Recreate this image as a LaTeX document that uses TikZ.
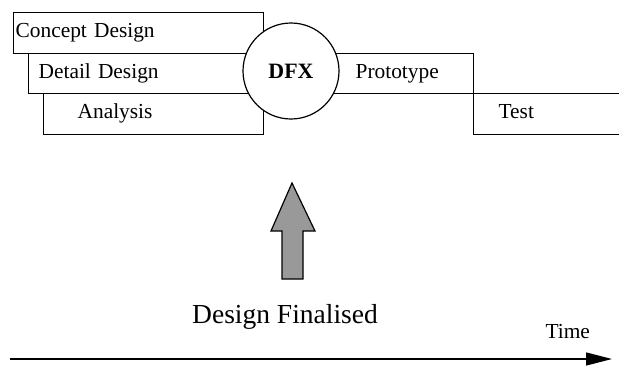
\documentclass[tikz,border=0pt]{standalone}
\usepackage{fontspec}
\setmainfont{Liberation Serif}
\usetikzlibrary{arrows.meta}

\begin{document}
\begin{tikzpicture}[x=1pt, y=-1pt,
  every node/.style={font=\fontsize{21.4}{24}\selectfont},
  stagebox/.style 2 args={draw, line width=1.2pt, fill=white, anchor=north west,
    inner xsep=0pt, inner ysep=0pt, minimum height=40.5pt, text width=#1,
    align=left, text height=15pt, text depth=5pt,
    execute at begin node={\hspace*{#2}}}]
  \useasboundingbox (0,0) rectangle (619,365);

  % stages before DFX
  \node[stagebox={250pt}{2pt}]  (concept)  at (13,12) {Concept Design};
  \node[stagebox={235pt}{10pt}] (detail)   at (28,52.5) {Detail Design};
  \node[stagebox={220pt}{34pt}] (analysis) at (43,93) {Analysis};

  % stages after DFX
  \node[stagebox={153pt}{35pt}] (proto) at (320,52.5) {Prototype};
  \node[stagebox={160pt}{25pt}] (test)  at (473,93) {Test};

  % DFX circle
  \node[draw, circle, line width=1.2pt, fill=white, minimum size=96pt,
    inner sep=0pt, font=\fontsize{21.9}{24}\selectfont\bfseries]
    (dfx) at (291,71) {DFX};

  % design finalised arrow
  \def\ax{292}
  \draw[line width=1.2pt, fill=black!40]
    (\ax,183) -- (\ax+23,231) -- (\ax+11,231) -- (\ax+11,279)
    -- (\ax-10,279) -- (\ax-10,231) -- (\ax-21,231) -- cycle;
  \node[anchor=base, font=\fontsize{27.5}{30}\selectfont]
    (final) at (285,323) {Design Finalised};

  % time axis
  \coordinate (t0) at (10,359);
  \coordinate (t1) at (612,359);
  \draw[line width=1.3pt, -{Triangle[length=26pt,width=13pt]}] (t0) -- (t1);
  \node[anchor=base west] (time) at (542,338) {Time};
\end{tikzpicture}
\end{document}
